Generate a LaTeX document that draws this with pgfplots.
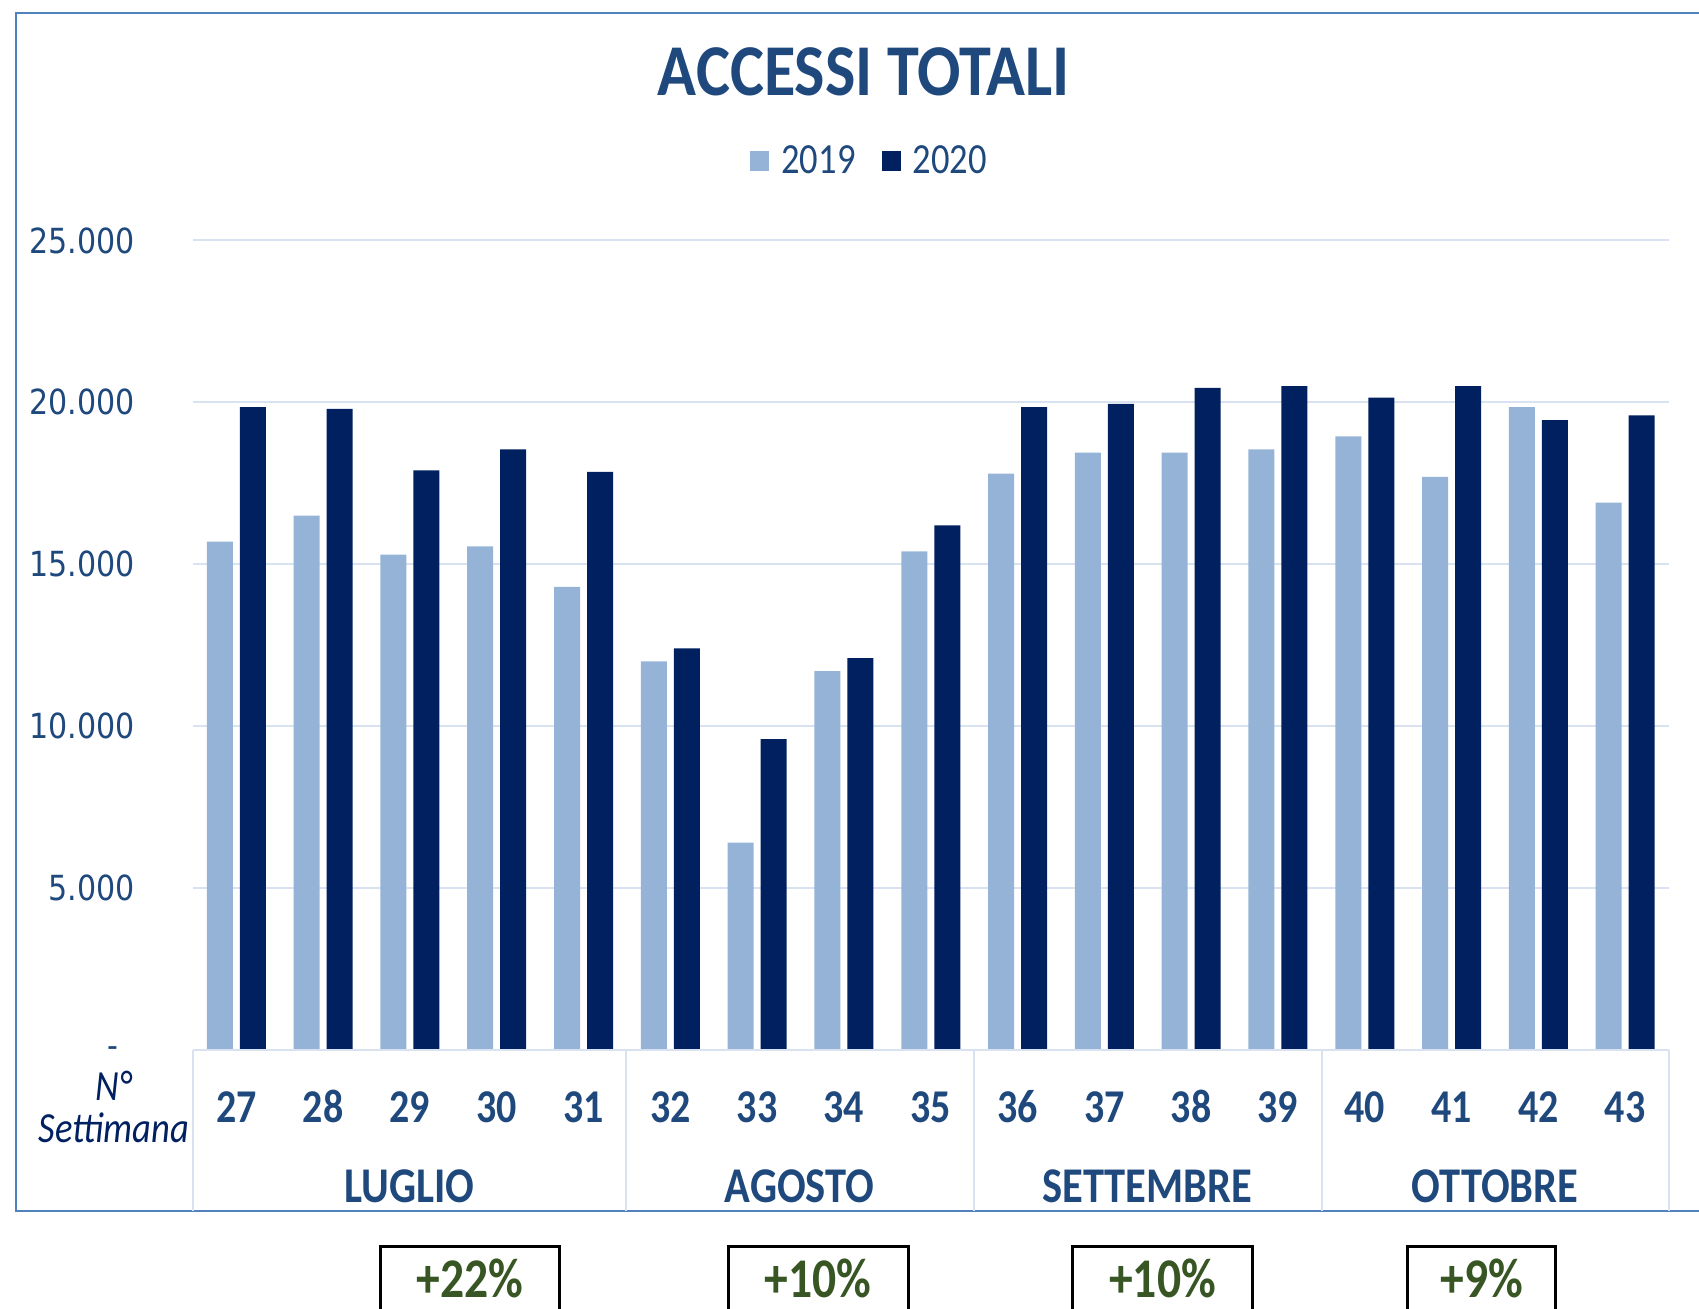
\documentclass[border=0pt]{standalone}
\usepackage{pgfplots}
\usepackage{pgfplotstable}
\pgfplotsset{compat=1.18}
\usepackage{fontspec}
\setmainfont{Carlito}[FakeStretch=0.85]
\newfontfamily\titlefont{Carlito}[FakeStretch=0.88]
\newfontfamily\tickfont{DejaVu Sans}[FakeStretch=0.87]
\definecolor{light}{HTML}{95B3D7}
\definecolor{navy}{HTML}{002060}
\definecolor{txtblue}{HTML}{1F497D}
\definecolor{gridblue}{HTML}{D9E2F1}
\definecolor{frameblue}{HTML}{4F81BD}
\definecolor{pctgreen}{HTML}{375623}

\pgfplotstableread{
x a b
0 15700 19850
1 16500 19800
2 15300 17900
3 15550 18550
4 14300 17850
5 12000 12400
6 6400 9600
7 11700 12100
8 15400 16200
9 17800 19850
10 18450 19950
11 18450 20450
12 18550 20500
13 18950 20150
14 17700 20500
15 19850 19450
16 16900 19600
}\data

\begin{document}
\begin{tikzpicture}
\useasboundingbox (0,0) rectangle (849.5pt,-654.5pt);
% outer frame
\draw[frameblue, line width=1pt] (880pt,-6.5pt) -- (8.15pt,-6.5pt) -- (8.15pt,-605.7pt) -- (880pt,-605.7pt);
% title
\node[anchor=base, inner sep=0pt, text=txtblue, font=\fontsize{36.5pt}{40pt}\titlefont\bfseries] at (431.8pt,-47.7pt) {ACCESSI TOTALI};
\begin{axis}[
  at={(96.45pt,-524.95pt)}, anchor=south west,
  scale only axis, width=737.85pt, height=404.7pt,
  xmin=-0.5, xmax=16.5, ymin=0, ymax=25000,
  scaled y ticks=false,
  ybar=3.5pt, bar width=13pt,
  xtick={0,...,16},
  xticklabels={27,28,29,30,31,32,33,34,35,36,37,38,39,40,41,42,43},
  xticklabel style={anchor=base, inner sep=0pt, yshift=-32pt, text=txtblue, font=\fontsize{23.5pt}{26pt}\selectfont\bfseries},
  ytick={0,5000,10000,15000,20000,25000},
  yticklabels={{\raisebox{-3.8pt}[0pt][0pt]{-}\kern8pt},5.000,10.000,15.000,20.000,25.000},
  yticklabel style={anchor=east, inner sep=0pt, xshift=-29pt, text=txtblue, font=\fontsize{17.3pt}{20pt}\selectfont\tickfont},
  ymajorgrids, major grid style={gridblue, line width=1pt},
  axis line style={draw=none}, major tick style={draw=none},
  legend style={at={(0.4592,1.0982)}, anchor=center, draw=none, fill=none,
    legend columns=2, font=\fontsize{21.5pt}{24pt}\selectfont, text=txtblue,
    /tikz/every even column/.append style={column sep=11pt},
    /tikz/every odd column/.append style={column sep=4pt}},
  legend image code/.code={\fill[#1] (0pt,-4.9pt) rectangle (9.5pt,4.9pt);},
]
\addplot[fill=light, draw=none] table[x=x, y=a] {\data};
\addplot[fill=navy, draw=none] table[x=x, y=b] {\data};
\legend{2019,2020}
\end{axis}
% category table lines
\draw[gridblue, line width=1pt] (96.45pt,-524.95pt) -- (834.3pt,-524.95pt);
\foreach \xx in {96.45,313.15,487.05,660.95,834.3}
  \draw[gridblue, line width=1pt] (\xx pt,-524.95pt) -- (\xx pt,-605.7pt);
% months
\foreach \xx/\mm in {204.8/LUGLIO,399.8/AGOSTO,573.7/SETTEMBRE,747.6/OTTOBRE}
  \node[anchor=base, inner sep=0pt, text=txtblue, font=\fontsize{25pt}{27pt}\selectfont\bfseries] at (\xx pt,-601.2pt) {\mm};
% N° Settimana
\node[anchor=base, inner sep=0pt, text=navy, font=\fontsize{21.5pt}{24pt}\selectfont\itshape] at (56.9pt,-550.2pt) {N°};
\node[anchor=base, inner sep=0pt, text=navy, font=\fontsize{21.5pt}{24pt}\selectfont\itshape] at (56.9pt,-571.3pt) {Settimana};
% percentage boxes
\foreach \xa/\xb/\xc/\pp in {190.15/279.55/234.85/+22\%,364.05/454.0/409.0/+10\%,536.35/626.25/581.3/+10\%,703.75/777.95/740.85/+9\%}{
  \draw[black, line width=1.5pt] (\xa pt,-680pt) -- (\xa pt,-623pt) -- (\xb pt,-623pt) -- (\xb pt,-680pt);
  \node[anchor=base, inner sep=0pt, text=pctgreen, font=\fontsize{28pt}{30pt}\selectfont\bfseries] at (\xc pt,-648.5pt) {\pp};
}
\end{tikzpicture}
\end{document}
